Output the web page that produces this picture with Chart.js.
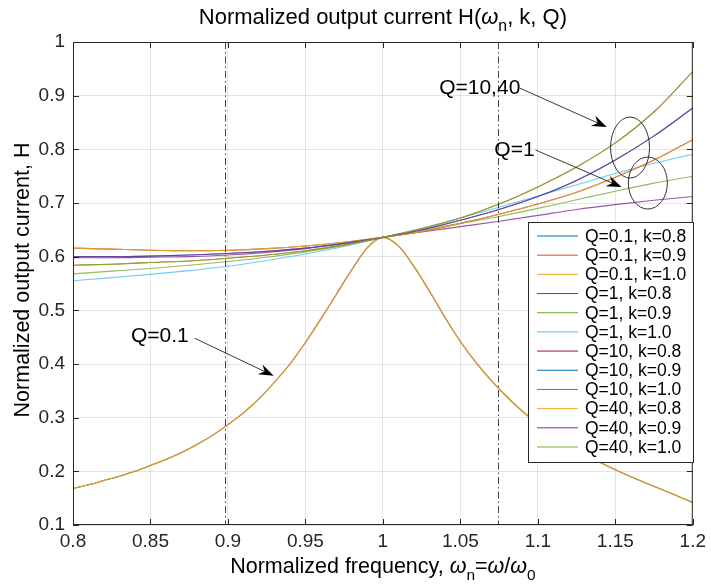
<!DOCTYPE html>
<html>
<head>
<meta charset="utf-8">
<script src="https://cdn.jsdelivr.net/npm/chart.js@4.4.1/dist/chart.umd.min.js"></script>
<style>
  html, body { margin: 0; padding: 0; background: #fff; }
</style>
</head>
<body>
<canvas id="chart" width="711" height="588"></canvas>
<script>
// frequencies (normalized)
const freqFine = [0.80, 0.81, 0.82, 0.83, 0.84, 0.85, 0.86, 0.87, 0.88, 0.89, 0.90,
                  0.91, 0.92, 0.93, 0.94, 0.95, 0.96, 0.97, 0.98, 0.99, 1.00,
                  1.01, 1.02, 1.03, 1.04, 1.05, 1.06, 1.07, 1.08, 1.09, 1.10,
                  1.11, 1.12, 1.13, 1.14, 1.15, 1.16, 1.17, 1.18, 1.19, 1.20];
const freqCoarse = [0.800, 0.825, 0.850, 0.875, 0.900, 0.925, 0.950, 0.975, 1.000,
                    1.025, 1.050, 1.075, 1.100, 1.125, 1.150, 1.175, 1.200];

// Q=0.1 (k=0.8, 0.9, 1.0 lie on top of each other)
const hQ01 = [0.168, 0.175, 0.183, 0.191, 0.200, 0.211, 0.222, 0.235, 0.250, 0.267, 0.287,
              0.309, 0.335, 0.366, 0.400, 0.440, 0.484, 0.530, 0.576, 0.617, 0.636,
              0.620, 0.582, 0.536, 0.487, 0.442, 0.403, 0.369, 0.339, 0.312, 0.289,
              0.268, 0.249, 0.232, 0.217, 0.203, 0.190, 0.178, 0.166, 0.154, 0.142];

// Q=1
const hQ1k08 = [0.598, 0.598, 0.599, 0.600, 0.603, 0.608, 0.615, 0.624, 0.636,
                0.646, 0.656, 0.666, 0.677, 0.688, 0.697, 0.705, 0.712];
const hQ1k09 = [0.568, 0.573, 0.578, 0.584, 0.591, 0.599, 0.609, 0.621, 0.636,
                0.649, 0.662, 0.675, 0.690, 0.706, 0.722, 0.737, 0.750];
const hQ1k10 = [0.555, 0.561, 0.567, 0.574, 0.582, 0.593, 0.605, 0.619, 0.636,
                0.653, 0.672, 0.692, 0.713, 0.734, 0.755, 0.774, 0.791];

// Q=10 and Q=40 (nearly identical)
const hQhk08 = [0.616, 0.614, 0.612, 0.611, 0.612, 0.615, 0.620, 0.627, 0.636,
                0.647, 0.662, 0.679, 0.698, 0.720, 0.748, 0.780, 0.818];
const hQhk09 = [0.600, 0.600, 0.601, 0.603, 0.606, 0.610, 0.616, 0.625, 0.636,
                0.650, 0.668, 0.688, 0.712, 0.742, 0.780, 0.825, 0.877];
const hQhk10 = [0.584, 0.586, 0.589, 0.592, 0.597, 0.603, 0.611, 0.622, 0.636,
                0.652, 0.672, 0.698, 0.730, 0.767, 0.812, 0.870, 0.945];

const seriesLabels = ['Q=0.1, k=0.8', 'Q=0.1, k=0.9', 'Q=0.1, k=1.0',
                      'Q=1, k=0.8', 'Q=1, k=0.9', 'Q=1, k=1.0',
                      'Q=10, k=0.8', 'Q=10, k=0.9', 'Q=10, k=1.0',
                      'Q=40, k=0.8', 'Q=40, k=0.9', 'Q=40, k=1.0'];
const seriesX = [freqFine, freqFine, freqFine,
                 freqCoarse, freqCoarse, freqCoarse,
                 freqCoarse, freqCoarse, freqCoarse,
                 freqCoarse, freqCoarse, freqCoarse];
const seriesY = [hQ01, hQ01, hQ01,
                 hQ1k08, hQ1k09, hQ1k10,
                 hQhk08, hQhk09, hQhk10,
                 hQhk08, hQhk09, hQhk10];

const xTicks = [0.8, 0.85, 0.9, 0.95, 1, 1.05, 1.1, 1.15, 1.2];
const xTickLabels = ['0.8', '0.85', '0.9', '0.95', '1', '1.05', '1.1', '1.15', '1.2'];
const yTicks = [0.1, 0.2, 0.3, 0.4, 0.5, 0.6, 0.7, 0.8, 0.9, 1];
const yTickLabels = ['0.1', '0.2', '0.3', '0.4', '0.5', '0.6', '0.7', '0.8', '0.9', '1'];

// dash-dot marker lines
const markerFreqs = [0.898, 1.074];

// matlab default colour order
const colors = ['#0072BD', '#D95319', '#EDB120', '#7E2F8E', '#77AC30', '#4DBEEE', '#A2142F',
                '#0072BD', '#D95319', '#EDB120', '#7E2F8E', '#77AC30'];

const FONT = "'Liberation Sans', Arial, Helvetica, sans-serif";
const INK = '#262626';

function hexA(hex, a) {
    const n = parseInt(hex.slice(1), 16);
    return 'rgba(' + (n >> 16) + ',' + ((n >> 8) & 255) + ',' + (n & 255) + ',' + a + ')';
}

// text with sub scripts: parts = [[text, 'n'|'i'|'s'], ...]
function richText(ctx, parts, x, y, size, align) {
    const font = (kind) => kind === 's' ? (size * 0.72) + 'px ' + FONT
        : (kind === 'i' ? 'italic ' : '') + size + 'px ' + FONT;
    let w = 0;
    parts.forEach(p => { ctx.font = font(p[1]); w += ctx.measureText(p[0]).width; });
    let cx = align === 'center' ? x - w / 2 : x;
    ctx.textBaseline = 'alphabetic';
    ctx.textAlign = 'left';
    parts.forEach(p => {
        ctx.font = font(p[1]);
        ctx.fillText(p[0], cx, p[1] === 's' ? y + size * 0.32 : y);
        cx += ctx.measureText(p[0]).width;
    });
}

function arrow(ctx, x1, y1, x2, y2) {
    const ang = Math.atan2(y2 - y1, x2 - x1);
    const len = 15, hw = 5.5, notch = 10;
    ctx.beginPath();
    ctx.moveTo(x1, y1);
    ctx.lineTo(x2 - notch * Math.cos(ang), y2 - notch * Math.sin(ang));
    ctx.stroke();
    ctx.save();
    ctx.translate(x2, y2);
    ctx.rotate(ang);
    ctx.beginPath();
    ctx.moveTo(0, 0);
    ctx.lineTo(-len, -hw);
    ctx.lineTo(-notch, 0);
    ctx.lineTo(-len, hw);
    ctx.closePath();
    ctx.fill();
    ctx.restore();
}

const decor = {
    id: 'decor',
    afterDatasetsDraw(chart) {
        const ctx = chart.ctx, a = chart.chartArea;
        const xs = chart.scales.x, ys = chart.scales.y;
        ctx.save();

        // dash-dot lines
        ctx.strokeStyle = '#444';
        ctx.lineWidth = 1;
        ctx.setLineDash([7, 3, 1.5, 3]);
        markerFreqs.forEach(f => {
            const px = Math.round(xs.getPixelForValue(f)) + 0.5;
            ctx.beginPath();
            ctx.moveTo(px, a.top);
            ctx.lineTo(px, a.bottom);
            ctx.stroke();
        });
        ctx.setLineDash([]);

        // axes box and inner ticks
        ctx.strokeStyle = INK;
        ctx.lineWidth = 1;
        ctx.strokeRect(a.left + 0.5, a.top + 0.5, a.right - a.left - 1, a.bottom - a.top - 1);
        ctx.beginPath();
        xTicks.forEach(v => {
            const px = Math.round(xs.getPixelForValue(v)) + 0.5;
            ctx.moveTo(px, a.bottom); ctx.lineTo(px, a.bottom - 6);
            ctx.moveTo(px, a.top); ctx.lineTo(px, a.top + 6);
        });
        yTicks.forEach(v => {
            const py = Math.round(ys.getPixelForValue(v)) + 0.5;
            ctx.moveTo(a.left, py); ctx.lineTo(a.left + 6, py);
            ctx.moveTo(a.right, py); ctx.lineTo(a.right - 6, py);
        });
        ctx.stroke();

        // annotations
        ctx.fillStyle = '#000';
        ctx.strokeStyle = '#222';
        ctx.lineWidth = 0.9;
        ctx.font = '21px ' + FONT;
        ctx.textBaseline = 'middle';
        ctx.textAlign = 'center';
        const P = (x, y) => [xs.getPixelForValue(x), ys.getPixelForValue(y)];

        let p = P(1.0625, 0.914);
        ctx.fillText('Q=10,40', p[0], p[1]);
        let s = P(1.0884, 0.914), t = P(1.1445, 0.8416);
        arrow(ctx, s[0], s[1], t[0], t[1]);

        p = P(1.0849, 0.7987);
        ctx.fillText('Q=1', p[0], p[1]);
        s = P(1.0985, 0.7987); t = P(1.154, 0.7298);
        arrow(ctx, s[0], s[1], t[0], t[1]);

        p = P(0.856, 0.452);
        ctx.fillText('Q=0.1', p[0], p[1]);
        s = P(0.8785, 0.448); t = P(0.9295, 0.378);
        arrow(ctx, s[0], s[1], t[0], t[1]);

        ctx.strokeStyle = '#333';
        ctx.lineWidth = 1;
        p = P(1.1595, 0.8034);
        ctx.beginPath(); ctx.ellipse(p[0], p[1], 19.5, 30.5, 0, 0, Math.PI * 2); ctx.stroke();
        p = P(1.171, 0.7372);
        ctx.beginPath(); ctx.ellipse(p[0], p[1], 19.5, 26, 0, 0, Math.PI * 2); ctx.stroke();

        // legend
        const lx = 528, ly = 222, lw = 165, lh = 240, row = 19.18;
        ctx.fillStyle = '#fff';
        ctx.fillRect(lx, ly, lw, lh);
        ctx.strokeStyle = INK;
        ctx.strokeRect(lx + 0.5, ly + 0.5, lw, lh);
        ctx.font = '17.5px ' + FONT;
        ctx.textAlign = 'left';
        ctx.textBaseline = 'middle';
        seriesLabels.forEach((lab, i) => {
            const yy = ly + 14 + i * row;
            ctx.strokeStyle = colors[i];
            ctx.lineWidth = 1;
            ctx.beginPath();
            ctx.moveTo(537, yy); ctx.lineTo(578, yy);
            ctx.stroke();
            ctx.fillStyle = '#000';
            ctx.fillText(lab, 585, yy + 1);
        });

        // titles
        ctx.fillStyle = '#000';
        richText(ctx, [['Normalized output current H(', 'n'], ['\u03c9', 'i'], ['n', 's'], [', k, Q)', 'n']],
            (a.left + a.right) / 2, 24, 22, 'center');
        richText(ctx, [['Normalized frequency, ', 'n'], ['\u03c9', 'i'], ['n', 's'], ['=', 'n'],
            ['\u03c9', 'i'], ['/', 'n'], ['\u03c9', 'i'], ['0', 's']],
            (a.left + a.right) / 2, 573, 21.5, 'center');
        ctx.save();
        ctx.translate(29, 280);
        ctx.rotate(-Math.PI / 2);
        richText(ctx, [['Normalized output current, H', 'n']], 0, 0, 21.5, 'center');
        ctx.restore();

        ctx.restore();
    }
};

const datasets = seriesLabels.map((lab, i) => ({
    label: lab,
    data: seriesX[i].map((x, j) => ({ x: x, y: seriesY[i][j] })),
    borderColor: hexA(colors[i], 0.8),
    borderWidth: 1.1,
    pointRadius: 0,
    fill: false,
    cubicInterpolationMode: 'monotone',
    order: -i
}));

new Chart(document.getElementById('chart').getContext('2d'), {
    type: 'line',
    data: { datasets: datasets },
    options: {
        responsive: false,
        devicePixelRatio: 1,
        animation: false,
        layout: { padding: { top: 42, right: 11, left: 0, bottom: 0 } },
        plugins: { legend: { display: false }, tooltip: { enabled: false } },
        scales: {
            x: {
                type: 'linear',
                min: 0.8,
                max: 1.2,
                afterBuildTicks: s => { s.ticks = xTicks.map(v => ({ value: v })); },
                afterFit: s => { s.height = 63; },
                ticks: {
                    callback: (v, i) => xTickLabels[i],
                    color: INK,
                    font: { family: FONT, size: 19 },
                    padding: 5,
                    maxRotation: 0
                },
                grid: { color: 'rgba(38,38,38,0.12)', drawTicks: false },
                border: { display: false }
            },
            y: {
                type: 'linear',
                min: 0.1,
                max: 1,
                afterBuildTicks: s => { s.ticks = yTicks.map(v => ({ value: v })); },
                afterFit: s => { s.width = 73; },
                ticks: {
                    callback: (v, i) => yTickLabels[i],
                    color: INK,
                    font: { family: FONT, size: 19 },
                    padding: 8
                },
                grid: { color: 'rgba(38,38,38,0.12)', drawTicks: false },
                border: { display: false }
            }
        }
    },
    plugins: [decor]
});
</script>
</body>
</html>
